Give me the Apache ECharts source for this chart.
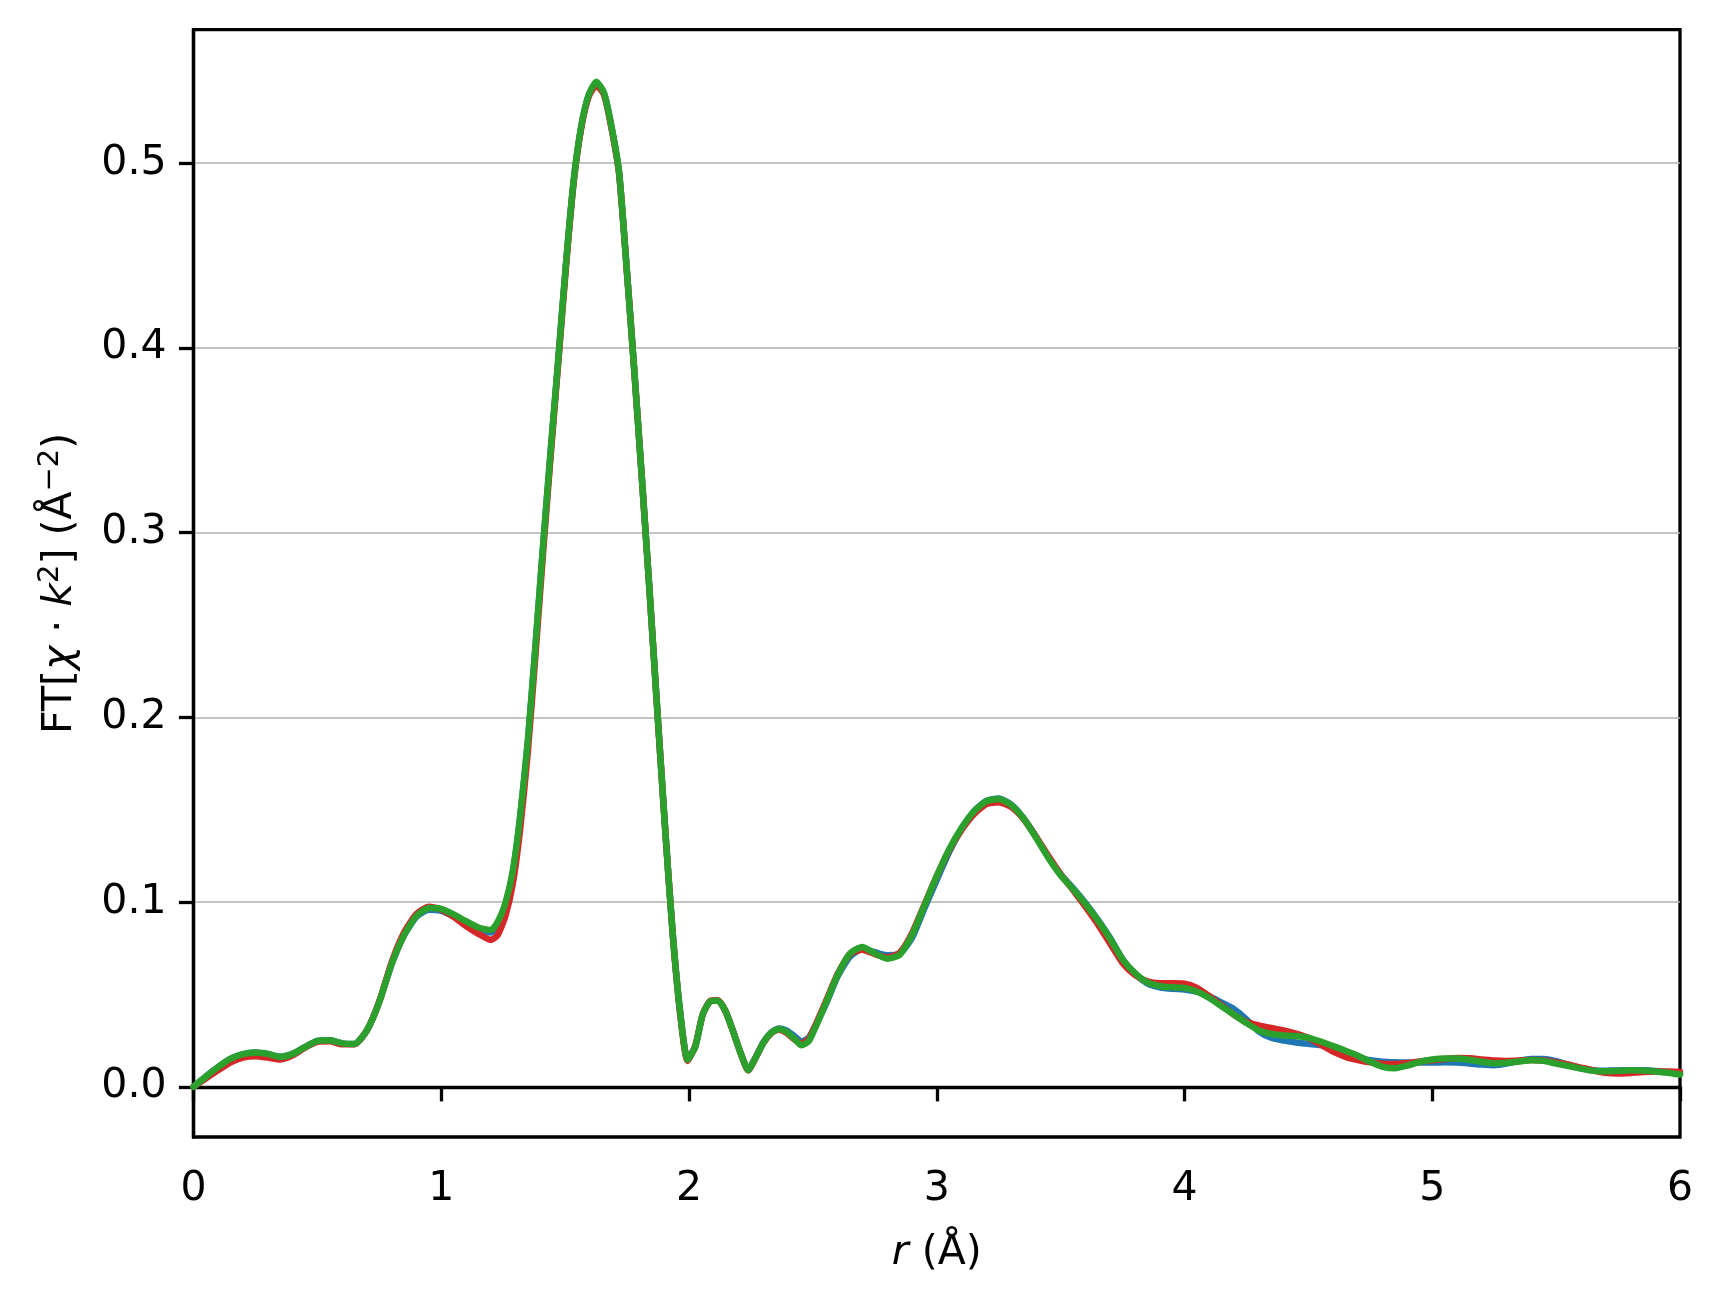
<!DOCTYPE html>
<html>
<head>
<meta charset="utf-8">
<title>FT chi k2</title>
<script src="https://cdn.jsdelivr.net/npm/echarts@6/dist/echarts.min.js"></script>
<style>
  html, body { margin: 0; padding: 0; background: #fff; }
  #chart { width: 1724px; height: 1301px; }
</style>
</head>
<body>
<div id="chart"></div>
<script>
// r 网格 (Å)
const rValues = [
  0, 0.05, 0.1, 0.15, 0.2, 0.25, 0.3, 0.35, 0.4, 0.45, 0.5, 0.55, 0.6, 0.65, 0.7, 0.75, 0.8, 0.85, 0.9, 0.95,
  1.0, 1.05, 1.1, 1.15, 1.2, 1.227, 1.258, 1.289, 1.319, 1.35, 1.381, 1.411, 1.442, 1.473, 1.503, 1.534,
  1.565, 1.595, 1.626, 1.657, 1.687, 1.718, 1.749, 1.779, 1.81, 1.841, 1.871, 1.902, 1.933, 1.963, 1.994,
  2.025, 2.055, 2.086, 2.117, 2.147, 2.178, 2.209, 2.239, 2.27, 2.301, 2.332, 2.362, 2.393, 2.424, 2.454, 2.485,
  2.55, 2.6, 2.65, 2.7, 2.75, 2.8, 2.85, 2.9, 2.95, 3.0, 3.05, 3.1, 3.15, 3.2, 3.25, 3.3, 3.35, 3.4, 3.45,
  3.5, 3.55, 3.6, 3.65, 3.7, 3.75, 3.8, 3.85, 3.9, 3.95, 4.0, 4.05, 4.1, 4.15, 4.2, 4.25, 4.3, 4.35, 4.4, 4.45,
  4.5, 4.55, 4.6, 4.65, 4.7, 4.75, 4.8, 4.85, 4.9, 4.95, 5.0, 5.05, 5.1, 5.15, 5.2, 5.25, 5.3, 5.35, 5.4, 5.45,
  5.5, 5.55, 5.6, 5.65, 5.7, 5.75, 5.8, 5.85, 5.9, 5.95, 6.0
];

// 蓝线
const blueValues = [
  0.000, 0.0055, 0.0107, 0.0152, 0.0177, 0.0186, 0.0178, 0.0162, 0.0178, 0.0215, 0.0248, 0.0252, 0.0235, 0.0232, 0.0305, 0.0460, 0.0665, 0.0820, 0.0920, 0.0958,
  0.0952, 0.0922, 0.0885, 0.0850, 0.0835, 0.0865, 0.0975, 0.1160, 0.1465, 0.1875, 0.2395, 0.2925, 0.3445, 0.3945, 0.4445, 0.4895,
  0.5195, 0.5365, 0.5435, 0.5375, 0.5195, 0.4945, 0.4420, 0.3880, 0.3290, 0.2680, 0.2060, 0.1430, 0.0850, 0.0420, 0.0150,
  0.0215, 0.0390, 0.0462, 0.0466, 0.0410, 0.0300, 0.0180, 0.0092, 0.0162, 0.0242, 0.0294, 0.0315, 0.0305, 0.0275, 0.0245, 0.0268,
  0.0440, 0.0598, 0.0705, 0.0745, 0.0728, 0.0712, 0.0720, 0.0805, 0.0965, 0.1120, 0.1270, 0.1395, 0.1490, 0.1548, 0.1560, 0.1528, 0.1455, 0.1355, 0.1245,
  0.1150, 0.1075, 0.0995, 0.0905, 0.0805, 0.0690, 0.0612, 0.0560, 0.0538, 0.0530, 0.0527, 0.0515, 0.0490, 0.0455, 0.0420, 0.0365, 0.0300, 0.0265, 0.0250, 0.0240,
  0.0232, 0.0225, 0.0200, 0.0175, 0.0155, 0.0143, 0.0136, 0.0133, 0.0131, 0.0131, 0.0131, 0.0132, 0.0131, 0.0126, 0.0120, 0.0117, 0.0125, 0.0140, 0.0150, 0.0150,
  0.0138, 0.0118, 0.0100, 0.0090, 0.0087, 0.0088, 0.0090, 0.0089, 0.0085, 0.0079, 0.0072
];

// 红线
const redValues = [
  0.000, 0.0045, 0.0090, 0.0132, 0.0158, 0.0165, 0.0158, 0.0148, 0.0170, 0.0212, 0.0243, 0.0246, 0.0230, 0.0230, 0.0305, 0.0462, 0.0675, 0.0835, 0.0935, 0.0975,
  0.0960, 0.0920, 0.0870, 0.0828, 0.0795, 0.0820, 0.0920, 0.1100, 0.1400, 0.1820, 0.2350, 0.2890, 0.3420, 0.3930, 0.4430, 0.4890,
  0.5190, 0.5360, 0.5420, 0.5370, 0.5190, 0.4940, 0.4420, 0.3880, 0.3290, 0.2680, 0.2060, 0.1430, 0.0850, 0.0410, 0.0140,
  0.0220, 0.0390, 0.0465, 0.0468, 0.0410, 0.0300, 0.0180, 0.0088, 0.0160, 0.0240, 0.0290, 0.0310, 0.0292, 0.0258, 0.0235, 0.0262,
  0.0455, 0.0610, 0.0718, 0.0742, 0.0718, 0.0700, 0.0725, 0.0830, 0.0985, 0.1140, 0.1280, 0.1390, 0.1475, 0.1530, 0.1540, 0.1515, 0.1450, 0.1355, 0.1250,
  0.1150, 0.1065, 0.0975, 0.0880, 0.0775, 0.0670, 0.0605, 0.0570, 0.0560, 0.0560, 0.0558, 0.0535, 0.0490, 0.0440, 0.0390, 0.0350, 0.0332, 0.0318, 0.0305, 0.0288,
  0.0265, 0.0228, 0.0190, 0.0162, 0.0145, 0.0132, 0.0125, 0.0123, 0.0128, 0.0137, 0.0144, 0.0150, 0.0156, 0.0154, 0.0148, 0.0142, 0.0140, 0.0142, 0.0145, 0.0142,
  0.0132, 0.0120, 0.0104, 0.0088, 0.0076, 0.0072, 0.0075, 0.0080, 0.0082, 0.0082, 0.0080
];

// 绿线
const greenValues = [
  0.000, 0.0055, 0.0107, 0.0152, 0.0177, 0.0186, 0.0178, 0.0162, 0.0178, 0.0215, 0.0248, 0.0252, 0.0235, 0.0232, 0.0305, 0.0460, 0.0665, 0.0820, 0.0925, 0.0968,
  0.0963, 0.0933, 0.0896, 0.0862, 0.0848, 0.0890, 0.0990, 0.1170, 0.1470, 0.1880, 0.2400, 0.2930, 0.3450, 0.3950, 0.4450, 0.4900,
  0.5200, 0.5370, 0.5440, 0.5380, 0.5200, 0.4950, 0.4420, 0.3880, 0.3290, 0.2680, 0.2060, 0.1430, 0.0850, 0.0420, 0.0145,
  0.0215, 0.0390, 0.0462, 0.0466, 0.0410, 0.0300, 0.0180, 0.0090, 0.0160, 0.0240, 0.0292, 0.0312, 0.0298, 0.0262, 0.0224, 0.0250,
  0.0445, 0.0605, 0.0722, 0.0757, 0.0722, 0.0693, 0.0714, 0.0820, 0.0980, 0.1140, 0.1285, 0.1400, 0.1490, 0.1545, 0.1557, 0.1525, 0.1453, 0.1350, 0.1240,
  0.1145, 0.1070, 0.0990, 0.0900, 0.0800, 0.0690, 0.0615, 0.0565, 0.0545, 0.0538, 0.0535, 0.0515, 0.0480, 0.0435, 0.0390, 0.0345, 0.0305, 0.0286, 0.0278, 0.0275,
  0.0265, 0.0245, 0.0220, 0.0195, 0.0168, 0.0135, 0.0108, 0.0100, 0.0115, 0.0135, 0.0148, 0.0153, 0.0153, 0.0146, 0.0135, 0.0127, 0.0130, 0.0137, 0.0143, 0.0140,
  0.0125, 0.0112, 0.0098, 0.0086, 0.0084, 0.0086, 0.0089, 0.0088, 0.0083, 0.0076, 0.0066
];

// 刻度
const xTicks = [0, 1, 2, 3, 4, 5, 6];
const yTicks = [0, 0.1, 0.2, 0.3, 0.4, 0.5];

const FONT = "DejaVu Sans";
const FS = 41;

const chart = echarts.init(document.getElementById("chart"), null, { renderer: "canvas" });

const toPairs = (vals) => rValues.map((r, i) => [r, vals[i]]);

const lineSeries = (name, color, vals, z) => ({
  name,
  type: "line",
  data: toPairs(vals),
  showSymbol: false,
  smooth: 0.2,
  z,
  lineStyle: { color, width: 6.5, join: "round", cap: "round" },
  itemStyle: { color },
  emphasis: { disabled: true },
  silent: true
});

const option = {
  animation: false,
  backgroundColor: "#fff",
  textStyle: { fontFamily: FONT },
  grid: {
    left: 193.5,
    right: 44,
    top: 29.7,
    bottom: 164,
    show: true,
    borderColor: "#000",
    borderWidth: 3.3,
    backgroundColor: "transparent"
  },
  xAxis: {
    type: "value",
    min: 0,
    max: 6,
    interval: 1,
    axisLine: { show: true, lineStyle: { color: "#000", width: 3.3 } },
    axisTick: { show: true, inside: false, length: 14.6, lineStyle: { color: "#000", width: 3.3 }, customValues: xTicks },
    axisLabel: { show: true, color: "#000", fontFamily: FONT, fontSize: FS, margin: 32, customValues: xTicks },
    splitLine: { show: false },
    name: "{i|r}{n| (Å)}",
    nameLocation: "middle",
    nameGap: 96,
    nameTextStyle: {
      rich: {
        i: { fontFamily: FONT, fontStyle: "italic", fontSize: FS, color: "#000" },
        n: { fontFamily: FONT, fontSize: FS, color: "#000" }
      }
    }
  },
  yAxis: {
    type: "value",
    min: -0.0272,
    max: 0.5722,
    axisLine: { show: true, lineStyle: { color: "#000", width: 3.3 } },
    axisTick: { show: true, inside: false, length: 14.6, lineStyle: { color: "#000", width: 3.3 }, customValues: yTicks },
    axisLabel: {
      show: true, color: "#000", fontFamily: FONT, fontSize: FS, margin: 27, customValues: yTicks,
      formatter: (v) => v.toFixed(1)
    },
    splitLine: { show: true, lineStyle: { color: "#b0b0b0", width: 1.6 } },
    name: "{n|FT[}{i|χ}{n| · }{i|k}{s|2}{n|] (Å}{s|−2}{n|)}",
    nameLocation: "middle",
    nameRotate: 90,
    nameGap: 108,
    nameTextStyle: {
      rich: {
        n: { fontFamily: FONT, fontSize: FS, color: "#000", lineHeight: 50 },
        i: { fontFamily: FONT, fontStyle: "italic", fontSize: FS, color: "#000", lineHeight: 50 },
        s: { fontFamily: FONT, fontSize: 29, color: "#000", lineHeight: 30, verticalAlign: "top" }
      }
    }
  },
  series: [
    lineSeries("blue", "#1f77b4", blueValues, 2),
    lineSeries("red", "#d62728", redValues, 3),
    lineSeries("green", "#2ca02c", greenValues, 4)
  ]
};

chart.setOption(option);
</script>
</body>
</html>
